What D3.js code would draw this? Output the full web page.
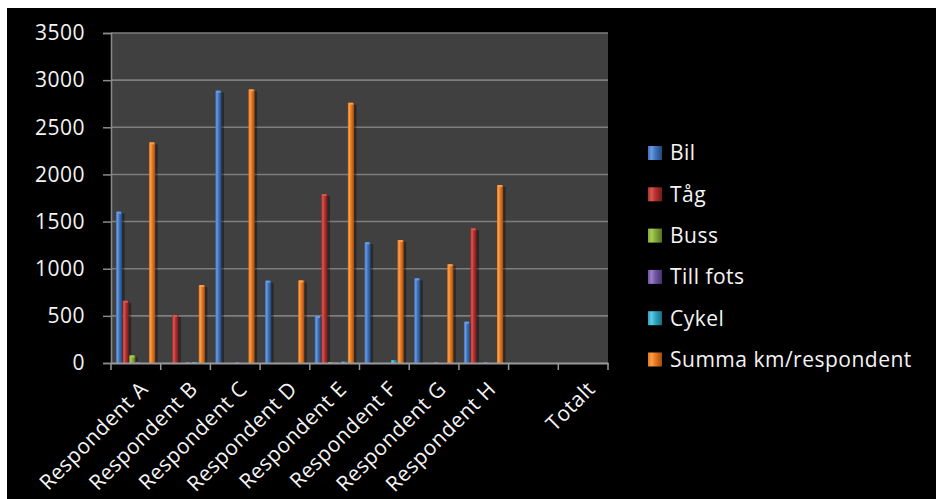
<!DOCTYPE html>
<html>
<head>
<meta charset="utf-8">
<script src="https://cdn.jsdelivr.net/npm/d3@7"></script>
<style>
  html, body { margin: 0; padding: 0; background: #fff; }
  svg { display: block; }
  text { font-family: "Open Sans", sans-serif; fill: #f4f4f4; letter-spacing: 0.5px; }
</style>
</head>
<body>
<svg id="chart"></svg>
<script>
const categories = ["Respondent A", "Respondent B", "Respondent C", "Respondent D",
    "Respondent E", "Respondent F", "Respondent G", "Respondent H", "", "Totalt"];
const seriesNames = ["Bil", "Tåg", "Buss", "Till fots", "Cykel", "Summa km/respondent"];

const bil     = [1605, 0, 2888, 873, 498, 1280, 898, 438, null, null];
const tag     = [660, 509, 0, 0, 1792, 0, 0, 1428, null, null];
const buss    = [80, 0, 0, 0, 10, 0, 0, 0, null, null];
const tillFots = [8, 10, 10, 0, 10, 0, 10, 10, null, null];
const cykel   = [0, 10, 0, 0, 15, 30, 0, 0, null, null];
const summa   = [2340, 827, 2902, 876, 2760, 1304, 1047, 1888, null, null];

const yTicks = [0, 500, 1000, 1500, 2000, 2500, 3000, 3500];

const seriesValues = [bil, tag, buss, tillFots, cykel, summa];
// light / mid / dark shade for each series
const colors = [
    ["#6a9be0", "#3f70b8", "#22487e"],
    ["#d9574f", "#b2302c", "#75191a"],
    ["#a9cc55", "#82a838", "#56731f"],
    ["#9c7fc8", "#6f53a0", "#47316b"],
    ["#5ecbe4", "#2fa2c0", "#1a6d85"],
    ["#f7a04a", "#e6761e", "#a24d0d"]
];

const W = 936, H = 499;
const plot = { left: 111, right: 608, top: 33, bottom: 363 };

const svg = d3.select("#chart").attr("width", W).attr("height", H);

// black panel with the thin white border seen at top/left
svg.append("rect").attr("x", 7).attr("y", 8).attr("width", W - 7).attr("height", H - 8).attr("fill", "#000");

const defs = svg.append("defs");
colors.forEach((c, i) => {
    const g = defs.append("linearGradient").attr("id", "grad" + i)
        .attr("x1", "0%").attr("x2", "100%").attr("y1", "0%").attr("y2", "0%");
    g.append("stop").attr("offset", "0%").attr("stop-color", c[1]);
    g.append("stop").attr("offset", "25%").attr("stop-color", c[0]);
    g.append("stop").attr("offset", "55%").attr("stop-color", c[1]);
    g.append("stop").attr("offset", "100%").attr("stop-color", c[2]);
});

const x = d3.scaleBand().domain(categories).range([plot.left, plot.right]).padding(0);
const inner = d3.scaleBand().domain(seriesNames).range([5, x.bandwidth() - 5]).padding(0);
const y = d3.scaleLinear().domain([0, 3500]).range([plot.bottom, plot.top]);

svg.append("rect")
    .attr("x", plot.left).attr("y", plot.top)
    .attr("width", plot.right - plot.left).attr("height", plot.bottom - plot.top)
    .attr("fill", "#404040");

// gridlines
svg.append("g")
    .selectAll("line")
    .data(yTicks.filter(d => d > 0))
    .enter()
    .append("line")
    .attr("x1", plot.left).attr("x2", plot.right)
    .attr("y1", d => y(d)).attr("y2", d => y(d))
    .attr("stroke", "#7e7e7e").attr("stroke-width", 1.6);

// bars
const barData = [];
seriesValues.forEach((vals, si) => {
    vals.forEach((v, ci) => {
        if (v != null && v > 0) barData.push({ s: si, c: categories[ci], v: v });
    });
});

const bars = svg.append("g");
bars.selectAll("rect.shadow")
    .data(barData)
    .enter()
    .append("rect")
    .attr("class", "shadow")
    .attr("x", d => x(d.c) + inner(seriesNames[d.s]) + 2)
    .attr("y", d => y(d.v) + 2)
    .attr("width", inner.bandwidth())
    .attr("height", d => Math.max(0, y(0) - y(d.v) - 2))
    .attr("fill", "rgba(0,0,0,0.35)");

bars.selectAll("rect.bar")
    .data(barData)
    .enter()
    .append("rect")
    .attr("class", "bar")
    .attr("x", d => x(d.c) + inner(seriesNames[d.s]))
    .attr("y", d => y(d.v))
    .attr("width", inner.bandwidth() - 0.5)
    .attr("height", d => Math.max(1.5, y(0) - y(d.v)))
    .attr("fill", d => `url(#grad${d.s})`);

bars.selectAll("rect.cap")
    .data(barData.filter(d => y(0) - y(d.v) > 4))
    .enter()
    .append("rect")
    .attr("class", "cap")
    .attr("x", d => x(d.c) + inner(seriesNames[d.s]) + 1)
    .attr("y", d => y(d.v))
    .attr("width", inner.bandwidth() - 2.5)
    .attr("height", 2)
    .attr("fill", d => colors[d.s][0]);

// axes
const yAxis = d3.axisLeft(y).tickValues(yTicks).tickSize(8).tickPadding(18).tickFormat(d3.format("d"));
const gy = svg.append("g").attr("transform", `translate(${plot.left},0)`).call(yAxis);
gy.select(".domain").attr("stroke", "#8a8a8a").attr("stroke-width", 1.5);
gy.selectAll(".tick line").attr("stroke", "#8a8a8a").attr("stroke-width", 1.5);
gy.selectAll(".tick text").attr("font-size", 21).attr("fill", "#f4f4f4")
    .attr("font-family", "'Open Sans', sans-serif");

const xAxis = d3.axisBottom(x).tickSize(0).tickFormat(d => d);
const gx = svg.append("g").attr("transform", `translate(0,${plot.bottom})`).call(xAxis);
gx.select(".domain").attr("stroke", "#9a9a9a").attr("stroke-width", 2);
gx.selectAll(".tick text")
    .attr("font-size", 21)
    .attr("font-family", "'Open Sans', sans-serif")
    .attr("fill", "#f4f4f4")
    .attr("text-anchor", "end")
    .attr("transform", "translate(6,20) rotate(-45)")
    .attr("dy", "0.35em");

// category boundary ticks
svg.append("g")
    .selectAll("line")
    .data(categories.map(c => x(c)).concat([plot.right]))
    .enter()
    .append("line")
    .attr("x1", d => d).attr("x2", d => d)
    .attr("y1", plot.bottom).attr("y2", plot.bottom + 7)
    .attr("stroke", "#9a9a9a").attr("stroke-width", 1.5);

// legend
const legend = svg.append("g").attr("transform", "translate(648,153)");
const item = legend.selectAll("g")
    .data(seriesNames)
    .enter()
    .append("g")
    .attr("transform", (d, i) => `translate(0,${i * 41.3})`);
item.append("rect")
    .attr("x", 0).attr("y", -7).attr("width", 14).attr("height", 14)
    .attr("fill", (d, i) => `url(#grad${i})`);
item.append("text")
    .attr("x", 22).attr("y", 0).attr("dy", "0.35em")
    .attr("font-size", 21)
    .text(d => d);
</script>
</body>
</html>
